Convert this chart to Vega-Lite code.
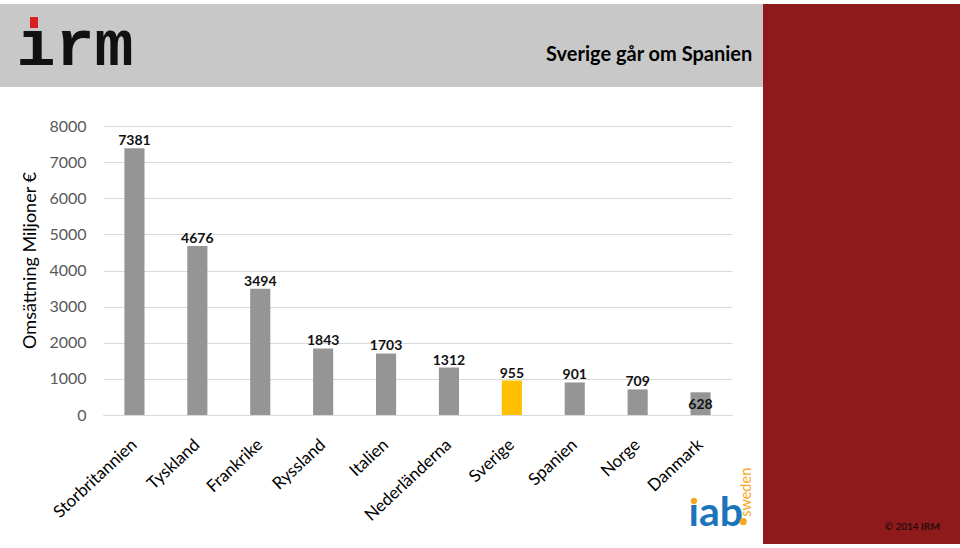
{
  "$schema": "https://vega.github.io/schema/vega-lite/v6.json",
  "padding": {"left": 0, "top": 4, "right": 0, "bottom": 0},
  "background": "#ffffff",
  "config": {"view": {"stroke": null}, "font": "Lato"},
  "datasets": {
    "sales": [
      {"land": "Storbritannien", "omsattning": 7381},
      {"land": "Tyskland", "omsattning": 4676},
      {"land": "Frankrike", "omsattning": 3494},
      {"land": "Ryssland", "omsattning": 1843},
      {"land": "Italien", "omsattning": 1703},
      {"land": "Nederländerna", "omsattning": 1312},
      {"land": "Sverige", "omsattning": 955},
      {"land": "Spanien", "omsattning": 901},
      {"land": "Norge", "omsattning": 709},
      {"land": "Danmark", "omsattning": 628}
    ]
  },
  "columns": 2,
  "spacing": 0,
  "align": "none",
  "concat": [
    {
      "columns": 1,
      "spacing": 31,
      "align": "none",
      "concat": [
        {
          "width": 763,
          "height": 83,
          "view": {"fill": "#c8c8c8", "stroke": null},
          "data": {"values": [{}]},
          "layer": [
            {
              "mark": {"type": "text", "text": "ırm", "font": "Liberation Mono", "fontWeight": "bold", "fontSize": 65, "align": "left", "baseline": "alphabetic", "color": "#111111"},
              "encoding": {
                "x": {"datum": 0.0216, "type": "quantitative", "scale": {"domain": [0, 1], "nice": false, "zero": false}, "axis": null},
                "y": {"datum": 0.735, "type": "quantitative", "scale": {"domain": [0, 1], "nice": false, "reverse": true}, "axis": null}
              }
            },
            {
              "mark": {"type": "rect", "color": "#d81e1e"},
              "encoding": {
                "x": {"datum": 0.0393, "type": "quantitative"},
                "x2": {"datum": 0.0498},
                "y": {"datum": 0.157, "type": "quantitative"},
                "y2": {"datum": 0.289}
              }
            },
            {
              "mark": {"type": "text", "text": "Sverige går om Spanien", "font": "Lato", "fontWeight": "bold", "fontSize": 20, "align": "right", "baseline": "alphabetic", "color": "#000000"},
              "encoding": {
                "x": {"datum": 0.986, "type": "quantitative"},
                "y": {"datum": 0.685, "type": "quantitative"}
              }
            }
          ]
        },
        {
          "columns": 2,
          "spacing": 0,
          "align": "none",
          "concat": [
            {
              "width": 21,
              "height": 289,
              "data": {"values": []},
              "mark": "point"
            },
            {
              "width": 629,
              "height": 289,
              "layer": [
                {
                  "data": {"name": "sales"},
                  "encoding": {
                    "x": {
                      "field": "land", "type": "nominal", "sort": null,
                      "scale": {"paddingInner": 0.68, "paddingOuter": 0.34},
                      "axis": {"title": null, "labelAngle": -43, "labelAlign": "right", "labelBaseline": "middle", "labelFont": "Lato", "labelFontSize": 17, "labelColor": "#000000", "labelPadding": 27, "ticks": false, "domainColor": "#d9d9d9", "labelOverlap": false, "labelLimit": 0}
                    },
                    "y": {
                      "field": "omsattning", "type": "quantitative",
                      "scale": {"domain": [0, 8000], "nice": false},
                      "axis": {"values": [0, 1000, 2000, 3000, 4000, 5000, 6000, 7000, 8000], "format": "d", "labelOverlap": false, "title": "Omsättning Miljoner €", "titleFont": "Lato", "titleFontSize": 18, "titleFontWeight": "normal", "titleColor": "#000000", "titlePadding": 9, "titleY": 134, "labelFont": "Lato", "labelFontSize": 16, "labelColor": "#595959", "labelPadding": 17, "ticks": false, "domain": false, "grid": true, "gridColor": "#d9d9d9"}
                    }
                  },
                  "layer": [
                    {
                      "mark": {"type": "bar"},
                      "encoding": {
                        "color": {"condition": {"test": "datum.land === 'Sverige'", "value": "#ffc000"}, "value": "#959595"}
                      }
                    },
                    {
                      "transform": [{"filter": "datum.land !== 'Danmark'"}],
                      "mark": {"type": "text", "baseline": "alphabetic", "dy": -3, "font": "Lato", "fontWeight": "bold", "fontSize": 14, "color": "#111111"},
                      "encoding": {
                        "text": {"field": "omsattning", "type": "quantitative"}
                      }
                    },
                    {
                      "transform": [{"filter": "datum.land === 'Danmark'"}],
                      "mark": {"type": "text", "baseline": "top", "dy": 6, "font": "Lato", "fontWeight": "bold", "fontSize": 14, "color": "#111111"},
                      "encoding": {
                        "text": {"field": "omsattning", "type": "quantitative"}
                      }
                    }
                  ]
                },
                {
                  "data": {"values": [{"logo": "ıab"}]},
                  "mark": {"type": "text", "font": "Lato", "fontWeight": "bold", "fontSize": 41, "align": "left", "baseline": "alphabetic", "dx": -12, "color": "#1b75bc"},
                  "encoding": {
                    "x": {"datum": "Danmark", "type": "nominal",
                      "axis": {"title": null, "labelAngle": -43, "labelAlign": "right", "labelBaseline": "middle", "labelFont": "Lato", "labelFontSize": 17, "labelColor": "#000000", "labelPadding": 27, "ticks": false, "domainColor": "#d9d9d9", "labelOverlap": false, "labelLimit": 0}},
                    "y": {"datum": -3070, "type": "quantitative",
                      "axis": {"values": [0, 1000, 2000, 3000, 4000, 5000, 6000, 7000, 8000], "format": "d", "labelOverlap": false, "title": "Omsättning Miljoner €", "titleFont": "Lato", "titleFontSize": 18, "titleFontWeight": "normal", "titleColor": "#000000", "titlePadding": 9, "titleY": 134, "labelFont": "Lato", "labelFontSize": 16, "labelColor": "#595959", "labelPadding": 17, "ticks": false, "domain": false, "grid": true, "gridColor": "#d9d9d9"}},
                    "text": {"field": "logo", "type": "nominal"}
                  }
                },
                {
                  "data": {"values": [{"logo": "i-prick"}]},
                  "mark": {"type": "circle", "size": 40, "opacity": 1, "color": "#f7a823"},
                  "encoding": {
                    "x": {"datum": "Danmark", "type": "nominal", "bandPosition": 0.17,
                      "axis": {"title": null, "labelAngle": -43, "labelAlign": "right", "labelBaseline": "middle", "labelFont": "Lato", "labelFontSize": 17, "labelColor": "#000000", "labelPadding": 27, "ticks": false, "domainColor": "#d9d9d9", "labelOverlap": false, "labelLimit": 0}},
                    "y": {"datum": -2380, "type": "quantitative",
                      "axis": {"values": [0, 1000, 2000, 3000, 4000, 5000, 6000, 7000, 8000], "format": "d", "labelOverlap": false, "title": "Omsättning Miljoner €", "titleFont": "Lato", "titleFontSize": 18, "titleFontWeight": "normal", "titleColor": "#000000", "titlePadding": 9, "titleY": 134, "labelFont": "Lato", "labelFontSize": 16, "labelColor": "#595959", "labelPadding": 17, "ticks": false, "domain": false, "grid": true, "gridColor": "#d9d9d9"}}
                  }
                },
                {
                  "data": {"values": [{"logo": "punkt"}]},
                  "mark": {"type": "circle", "size": 52, "opacity": 1, "color": "#f7a823"},
                  "encoding": {
                    "x": {"datum": "Danmark", "type": "nominal", "bandPosition": 2.62,
                      "axis": {"title": null, "labelAngle": -43, "labelAlign": "right", "labelBaseline": "middle", "labelFont": "Lato", "labelFontSize": 17, "labelColor": "#000000", "labelPadding": 27, "ticks": false, "domainColor": "#d9d9d9", "labelOverlap": false, "labelLimit": 0}},
                    "y": {"datum": -2950, "type": "quantitative",
                      "axis": {"values": [0, 1000, 2000, 3000, 4000, 5000, 6000, 7000, 8000], "format": "d", "labelOverlap": false, "title": "Omsättning Miljoner €", "titleFont": "Lato", "titleFontSize": 18, "titleFontWeight": "normal", "titleColor": "#000000", "titlePadding": 9, "titleY": 134, "labelFont": "Lato", "labelFontSize": 16, "labelColor": "#595959", "labelPadding": 17, "ticks": false, "domain": false, "grid": true, "gridColor": "#d9d9d9"}}
                  }
                },
                {
                  "data": {"values": [{"logo": "sweden"}]},
                  "mark": {"type": "text", "font": "Lato", "fontSize": 14.5, "angle": 270, "align": "left", "baseline": "middle", "dy": 46, "color": "#f7a823"},
                  "encoding": {
                    "x": {"datum": "Danmark", "type": "nominal",
                      "axis": {"title": null, "labelAngle": -43, "labelAlign": "right", "labelBaseline": "middle", "labelFont": "Lato", "labelFontSize": 17, "labelColor": "#000000", "labelPadding": 27, "ticks": false, "domainColor": "#d9d9d9", "labelOverlap": false, "labelLimit": 0}},
                    "y": {"datum": -2820, "type": "quantitative",
                      "axis": {"values": [0, 1000, 2000, 3000, 4000, 5000, 6000, 7000, 8000], "format": "d", "labelOverlap": false, "title": "Omsättning Miljoner €", "titleFont": "Lato", "titleFontSize": 18, "titleFontWeight": "normal", "titleColor": "#000000", "titlePadding": 9, "titleY": 134, "labelFont": "Lato", "labelFontSize": 16, "labelColor": "#595959", "labelPadding": 17, "ticks": false, "domain": false, "grid": true, "gridColor": "#d9d9d9"}},
                    "text": {"field": "logo", "type": "nominal"}
                  }
                }
              ]
            }
          ]
        }
      ]
    },
    {
      "width": 197,
      "height": 540,
      "view": {"fill": "#8e1a1b", "stroke": null},
      "data": {"values": [{}]},
      "mark": {"type": "text", "text": "© 2014 IRM", "font": "Lato", "fontWeight": "bold", "fontSize": 10, "align": "right", "baseline": "alphabetic", "color": "#2a0c0c"},
      "encoding": {
        "x": {"datum": 0.898, "type": "quantitative", "scale": {"domain": [0, 1], "nice": false}, "axis": null},
        "y": {"datum": 0.026, "type": "quantitative", "scale": {"domain": [0, 1], "nice": false}, "axis": null}
      }
    }
  ]
}
